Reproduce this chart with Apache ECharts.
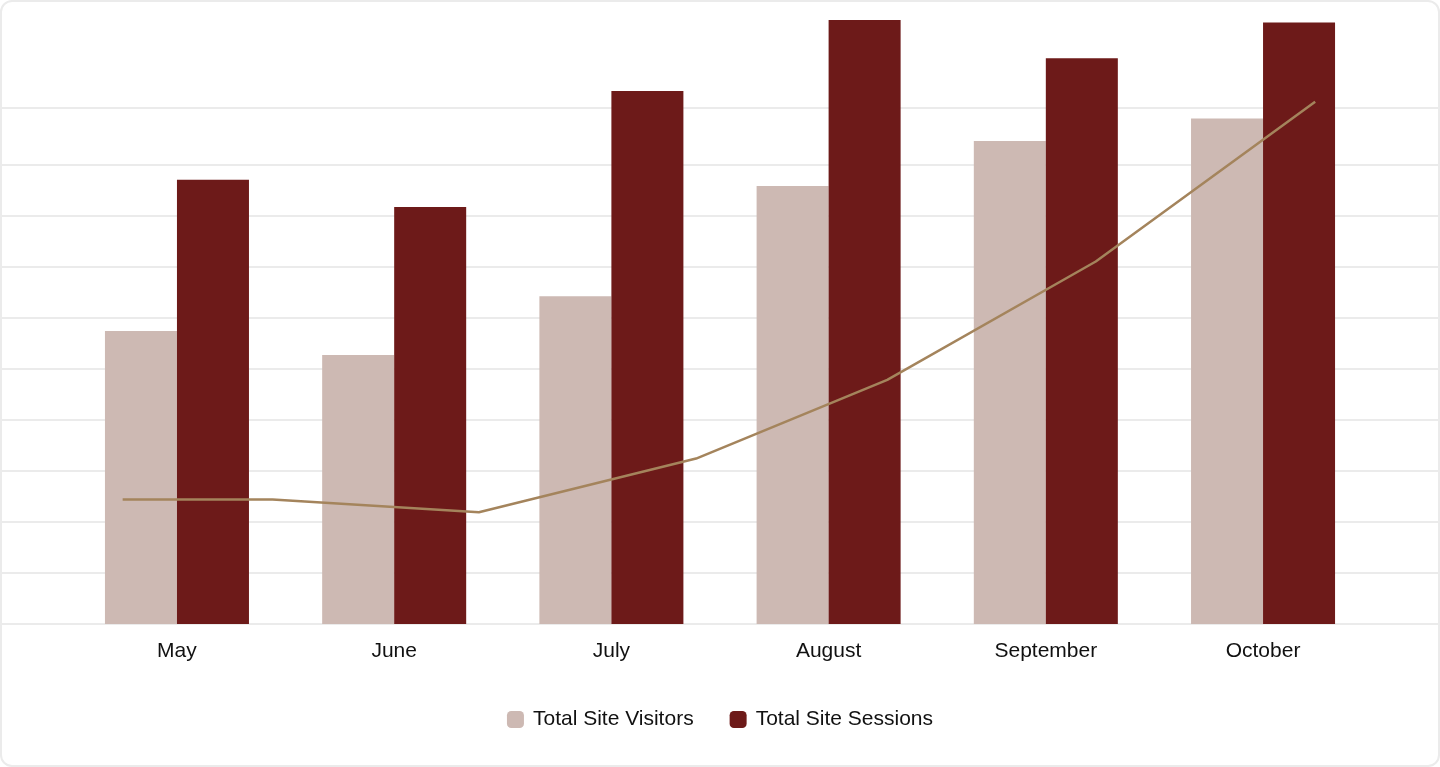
<!DOCTYPE html>
<html>
<head>
<meta charset="utf-8">
<script src="https://cdn.jsdelivr.net/npm/echarts@6/dist/echarts.min.js"></script>
<style>
  html, body { margin: 0; padding: 0; background: #ffffff; }
  #frame { position: absolute; left: 0; top: 0; width: 1440px; height: 767px; box-sizing: border-box;
           border: 2px solid #ebebeb; border-radius: 12px; background: #fff; overflow: hidden; }
  #chart { width: 1436px; height: 763px; }
</style>
</head>
<body>
<div id="frame"><div id="chart"></div></div>
<script>
const categories = ['May', 'June', 'July', 'August', 'September', 'October'];
const visitors = [57.4, 52.7, 64.2, 85.8, 94.6, 99.0];
const sessions = [87.0, 81.7, 104.4, 118.3, 110.8, 117.8];
const trendX = [-0.25, 0.44, 1.39, 2.39, 3.27, 4.23, 5.24];
const trendY = [24.4, 24.4, 21.9, 32.4, 47.8, 71.0, 102.3];
const legendNames = ['Total Site Visitors', 'Total Site Sessions'];

const yMin = 0, yMax = 90, yInterval = 10;
const font = '"Liberation Sans", Arial, sans-serif';
const gridLineStyle = { color: '#ebebeb', width: 2 };

const chart = echarts.init(document.getElementById('chart'), null, { renderer: 'canvas' });
chart.setOption({
  animation: false,
  textStyle: { fontFamily: font },
  legend: {
    data: legendNames,
    top: 707,
    left: 'center',
    padding: 0,
    itemWidth: 17,
    itemHeight: 17,
    itemGap: 36,
    icon: 'roundRect',
    textStyle: { fontSize: 21, color: '#111111', fontFamily: font, padding: [0, 0, 0, 4] }
  },
  grid: [
    { left: 66.35, right: 66.35, top: 162.5, bottom: 141 },
    { left: 0, right: 0, top: 162.5, bottom: 141 }
  ],
  xAxis: [
    { type: 'category', gridIndex: 0, data: categories,
      axisLine: { show: false }, axisTick: { show: false },
      axisLabel: { color: '#111111', fontSize: 21, margin: 17, fontFamily: font } },
    { type: 'value', gridIndex: 0, min: -0.5, max: 5.5, show: false },
    { type: 'value', gridIndex: 1, min: 0, max: 1, position: 'top', offset: 56.5,
      axisLine: { show: true, onZero: false, lineStyle: gridLineStyle }, axisTick: { show: false },
      axisLabel: { show: false }, splitLine: { show: false } }
  ],
  yAxis: [
    { type: 'value', gridIndex: 0, min: yMin, max: yMax, interval: yInterval,
      axisLine: { show: false }, axisTick: { show: false }, axisLabel: { show: false },
      splitLine: { show: false } },
    { type: 'value', gridIndex: 1, min: yMin, max: yMax, interval: yInterval,
      axisLine: { show: false }, axisTick: { show: false }, axisLabel: { show: false },
      splitLine: { show: true, lineStyle: gridLineStyle } }
  ],
  series: [
    { name: legendNames[0], type: 'bar', xAxisIndex: 0, yAxisIndex: 0, data: visitors,
      barGap: '0%', barCategoryGap: '33.7%', clip: false,
      itemStyle: { color: '#cdb9b3' } },
    { name: legendNames[1], type: 'bar', xAxisIndex: 0, yAxisIndex: 0, data: sessions,
      barGap: '0%', barCategoryGap: '33.7%', clip: false,
      itemStyle: { color: '#6d1a19' } },
    { name: 'Trend', type: 'line', xAxisIndex: 1, yAxisIndex: 0,
      data: trendX.map((x, i) => [x, trendY[i]]),
      symbol: 'none', clip: false, z: 5,
      lineStyle: { color: '#a4845c', width: 2.5 } }
  ]
});
</script>
</body>
</html>
